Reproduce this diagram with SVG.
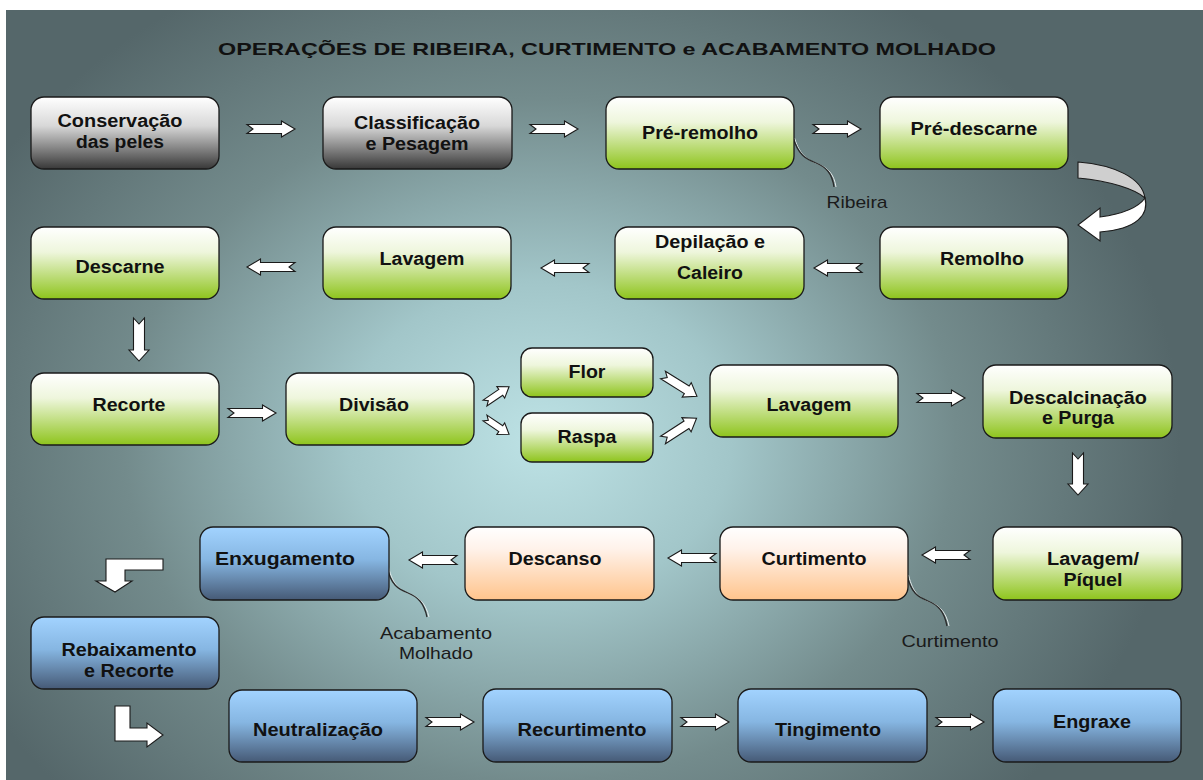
<svg xmlns="http://www.w3.org/2000/svg" xmlns:xlink="http://www.w3.org/1999/xlink" width="1203" height="780" viewBox="0 0 1203 780">
<defs>
<radialGradient id="bg" gradientUnits="userSpaceOnUse" cx="540" cy="440" r="640" gradientTransform="translate(540 440) scale(1 0.82) translate(-540 -440)">
<stop offset="0" stop-color="#bde2e5"/>
<stop offset="0.3" stop-color="#a2c6c9"/>
<stop offset="0.65" stop-color="#738b8c"/>
<stop offset="1" stop-color="#55676a"/>
</radialGradient>
<linearGradient id="gGreen" x1="0" y1="0" x2="0" y2="1">
<stop offset="0" stop-color="#ffffff"/>
<stop offset="0.35" stop-color="#eef6dc"/>
<stop offset="1" stop-color="#8ec41c"/>
</linearGradient>
<linearGradient id="gGrey" x1="0" y1="0" x2="0" y2="1">
<stop offset="0" stop-color="#ffffff"/>
<stop offset="0.4" stop-color="#d8d8d8"/>
<stop offset="1" stop-color="#383838"/>
</linearGradient>
<linearGradient id="gPeach" x1="0" y1="0" x2="0" y2="1">
<stop offset="0" stop-color="#ffffff"/>
<stop offset="0.3" stop-color="#fff2ea"/>
<stop offset="1" stop-color="#ffc48c"/>
</linearGradient>
<linearGradient id="gBlue" x1="0" y1="0" x2="0" y2="1">
<stop offset="0" stop-color="#a2d3ff"/>
<stop offset="0.45" stop-color="#86b6e2"/>
<stop offset="1" stop-color="#465a76"/>
</linearGradient>
<path id="arR" d="M0,-4.5 L34.5,-4.5 L34.5,-8 L48,0 L34.5,8 L34.5,4.5 L0,4.5 L6,0 Z"/>
<path id="arS" d="M0,-3.5 L19,-3.5 L19,-7 L29,0 L19,7 L19,3.5 L0,3.5 L4,0 Z"/>
<path id="arM" d="M0,-4.5 L28,-4.5 L28,-8.5 L40,0 L28,8.5 L28,4.5 L0,4.5 L5,0 Z"/>
<style>
.box{stroke:#1a1a1a;stroke-width:1.3}
.green{fill:url(#gGreen)}
.grey{fill:url(#gGrey)}
.peach{fill:url(#gPeach)}
.blue{fill:url(#gBlue)}
.lbl{font-family:"Liberation Sans",Arial,sans-serif;font-weight:bold;font-size:17.5px;fill:#111;text-anchor:middle}
.title{font-family:"Liberation Sans",Arial,sans-serif;font-weight:bold;font-size:17px;fill:#111;text-anchor:middle}
.side{font-family:"Liberation Sans",Arial,sans-serif;font-size:17px;fill:#1a1a1a;text-anchor:middle}
.arrow{fill:#ffffff;stroke:#1a1a1a;stroke-width:1.1;stroke-linejoin:miter}
.call{fill:none;stroke:#2a2a2a;stroke-width:1.3}
.callhl{fill:none;stroke:#e8eeee;stroke-width:1}
</style>
</defs>
<rect x="0" y="0" width="1203" height="780" fill="#ffffff"/>
<rect x="6" y="10" width="1197" height="770" fill="url(#bg)"/>
<text class="title" x="607" y="55" textLength="778" lengthAdjust="spacingAndGlyphs">OPERAÇÕES DE RIBEIRA, CURTIMENTO e ACABAMENTO MOLHADO</text>

<g id="connectors">
<use href="#arR" class="arrow" transform="translate(247,129)"/>
<use href="#arR" class="arrow" transform="translate(530,129)"/>
<use href="#arR" class="arrow" transform="translate(813,129)"/>
<path class="arrow" style="fill:#cfcfcf" d="M1078,162 C1115,165 1142,178 1145,198 C1135,189 1110,181 1078,178 Z"/>
<path class="arrow" d="M1145,198 C1149,214 1138,229 1100,232 L1100,241 L1078,225 L1100,208 L1100,217 C1122,214 1138,208 1145,198 Z"/>
<use href="#arR" class="arrow" transform="translate(862,268) rotate(180)"/>
<use href="#arR" class="arrow" transform="translate(589,268) rotate(180)"/>
<use href="#arR" class="arrow" transform="translate(295,267) rotate(180)"/>
<path class="arrow" d="M133.5,318 L139,324 L144.5,318 L144.5,350 L149,350 L139,361 L129,350 L133.5,350 Z"/>
<use href="#arR" class="arrow" transform="translate(228,413)"/>
<use href="#arS" class="arrow" transform="translate(485,403) rotate(-34)"/>
<use href="#arS" class="arrow" transform="translate(485,418) rotate(34)"/>
<use href="#arM" class="arrow" transform="translate(663,375) rotate(32)"/>
<use href="#arM" class="arrow" transform="translate(663,440) rotate(-33)"/>
<use href="#arR" class="arrow" transform="translate(917,398)"/>
<path class="arrow" d="M1072.5,453 L1078,459 L1083.5,453 L1083.5,484 L1088,484 L1078,495 L1068,484 L1072.5,484 Z"/>
<use href="#arR" class="arrow" transform="translate(970,555) rotate(180)"/>
<use href="#arR" class="arrow" transform="translate(716,558) rotate(180)"/>
<use href="#arR" class="arrow" transform="translate(457,560) rotate(180)"/>
<path class="arrow" d="M106,559 L163,559 L163,570 L125,570 L125,581 L132,581 L115,592 L96,581 L106,581 Z"/>
<path class="arrow" d="M115,706 L130,706 L130,728 L147,728 L147,723 L163,735 L147,747 L147,741 L115,741 Z"/>
<use href="#arR" class="arrow" transform="translate(426,722)"/>
<use href="#arR" class="arrow" transform="translate(681,722)"/>
<use href="#arR" class="arrow" transform="translate(936,722)"/>
<path class="callhl" d="M794.5,138 C800,156 808,160 818,164 C828,168 834,174 836,187"/>
<path class="call" d="M793,137 C798,155 806,159 816,163 C826,167 832,173 834,187"/>
<path class="callhl" d="M388.5,567 C393,586 400,590 410,594 C420,598 426,604 429,617"/>
<path class="call" d="M387,567 C391,585 398,589 408,593 C418,597 424,603 427,617"/>
<path class="callhl" d="M908.5,575 C913,594 920,598 930,602 C940,606 946,612 949,626"/>
<path class="call" d="M907,575 C911,593 918,597 928,601 C938,605 944,611 947,626"/>
</g>

<g id="n-conservacao"><rect class="box grey" x="31" y="97" width="188" height="72" rx="13"/><text class="lbl" x="120" y="127" textLength="125" lengthAdjust="spacingAndGlyphs">Conservação</text><text class="lbl" x="120" y="148" textLength="88" lengthAdjust="spacingAndGlyphs">das peles</text></g>
<g id="n-classificacao"><rect class="box grey" x="323" y="97" width="189" height="72" rx="13"/><text class="lbl" x="417" y="129" textLength="126" lengthAdjust="spacingAndGlyphs">Classificação</text><text class="lbl" x="417" y="150" textLength="103" lengthAdjust="spacingAndGlyphs">e Pesagem</text></g>
<g id="n-preremolho"><rect class="box green" x="606" y="97" width="188" height="72" rx="13"/><text class="lbl" x="700" y="139" textLength="116" lengthAdjust="spacingAndGlyphs">Pré-remolho</text></g>
<g id="n-predescarne"><rect class="box green" x="880" y="97" width="188" height="72" rx="13"/><text class="lbl" x="974" y="135" textLength="127" lengthAdjust="spacingAndGlyphs">Pré-descarne</text></g>

<g id="n-descarne"><rect class="box green" x="31" y="227" width="188" height="72" rx="13"/><text class="lbl" x="120" y="273" textLength="89" lengthAdjust="spacingAndGlyphs">Descarne</text></g>
<g id="n-lavagem1"><rect class="box green" x="323" y="227" width="188" height="72" rx="13"/><text class="lbl" x="422" y="265" textLength="85" lengthAdjust="spacingAndGlyphs">Lavagem</text></g>
<g id="n-depilacao"><rect class="box green" x="615" y="227" width="189" height="72" rx="13"/><text class="lbl" x="710" y="248" textLength="110" lengthAdjust="spacingAndGlyphs">Depilação e</text><text class="lbl" x="710" y="279" textLength="66" lengthAdjust="spacingAndGlyphs">Caleiro</text></g>
<g id="n-remolho"><rect class="box green" x="880" y="227" width="188" height="72" rx="13"/><text class="lbl" x="982" y="265" textLength="84" lengthAdjust="spacingAndGlyphs">Remolho</text></g>

<g id="n-recorte"><rect class="box green" x="31" y="373" width="188" height="72" rx="13"/><text class="lbl" x="129" y="411" textLength="73" lengthAdjust="spacingAndGlyphs">Recorte</text></g>
<g id="n-divisao"><rect class="box green" x="286" y="373" width="188" height="72" rx="13"/><text class="lbl" x="374" y="411" textLength="70" lengthAdjust="spacingAndGlyphs">Divisão</text></g>
<g id="n-flor"><rect class="box green" x="521" y="348" width="132" height="49" rx="11"/><text class="lbl" x="587" y="378" textLength="37" lengthAdjust="spacingAndGlyphs">Flor</text></g>
<g id="n-raspa"><rect class="box green" x="521" y="413" width="132" height="49" rx="11"/><text class="lbl" x="587" y="443" textLength="59" lengthAdjust="spacingAndGlyphs">Raspa</text></g>
<g id="n-lavagem2"><rect class="box green" x="710" y="365" width="188" height="72" rx="13"/><text class="lbl" x="809" y="411" textLength="85" lengthAdjust="spacingAndGlyphs">Lavagem</text></g>
<g id="n-descalcinacao"><rect class="box green" x="983" y="365" width="189" height="73" rx="13"/><text class="lbl" x="1078" y="404" textLength="138" lengthAdjust="spacingAndGlyphs">Descalcinação</text><text class="lbl" x="1078" y="424" textLength="72" lengthAdjust="spacingAndGlyphs">e Purga</text></g>

<g id="n-enxugamento"><rect class="box blue" x="200" y="527" width="189" height="73" rx="13"/><text class="lbl" x="285" y="565" textLength="140" lengthAdjust="spacingAndGlyphs">Enxugamento</text></g>
<g id="n-descanso"><rect class="box peach" x="465" y="527" width="189" height="73" rx="13"/><text class="lbl" x="555" y="565" textLength="93" lengthAdjust="spacingAndGlyphs">Descanso</text></g>
<g id="n-curtimento"><rect class="box peach" x="720" y="527" width="188" height="73" rx="13"/><text class="lbl" x="814" y="565" textLength="105" lengthAdjust="spacingAndGlyphs">Curtimento</text></g>
<g id="n-piquel"><rect class="box green" x="993" y="527" width="189" height="73" rx="13"/><text class="lbl" x="1093" y="565" textLength="92" lengthAdjust="spacingAndGlyphs">Lavagem/</text><text class="lbl" x="1093" y="586" textLength="59" lengthAdjust="spacingAndGlyphs">Píquel</text></g>

<g id="n-rebaixamento"><rect class="box blue" x="31" y="617" width="188" height="72" rx="13"/><text class="lbl" x="129" y="656" textLength="135" lengthAdjust="spacingAndGlyphs">Rebaixamento</text><text class="lbl" x="129" y="677" textLength="90" lengthAdjust="spacingAndGlyphs">e Recorte</text></g>
<g id="n-neutralizacao"><rect class="box blue" x="229" y="690" width="188" height="72" rx="13"/><text class="lbl" x="318" y="736" textLength="130" lengthAdjust="spacingAndGlyphs">Neutralização</text></g>
<g id="n-recurtimento"><rect class="box blue" x="483" y="689" width="189" height="73" rx="13"/><text class="lbl" x="582" y="736" textLength="129" lengthAdjust="spacingAndGlyphs">Recurtimento</text></g>
<g id="n-tingimento"><rect class="box blue" x="738" y="689" width="189" height="73" rx="13"/><text class="lbl" x="828" y="736" textLength="106" lengthAdjust="spacingAndGlyphs">Tingimento</text></g>
<g id="n-engraxe"><rect class="box blue" x="993" y="689" width="188" height="73" rx="13"/><text class="lbl" x="1092" y="728" textLength="78" lengthAdjust="spacingAndGlyphs">Engraxe</text></g>

<g id="side-labels">
<text class="side" x="857" y="208" textLength="61" lengthAdjust="spacingAndGlyphs">Ribeira</text>
<text class="side" x="436" y="639" textLength="112" lengthAdjust="spacingAndGlyphs">Acabamento</text>
<text class="side" x="436" y="659" textLength="74" lengthAdjust="spacingAndGlyphs">Molhado</text>
<text class="side" x="950" y="647" textLength="97" lengthAdjust="spacingAndGlyphs">Curtimento</text>
</g>
</svg>
